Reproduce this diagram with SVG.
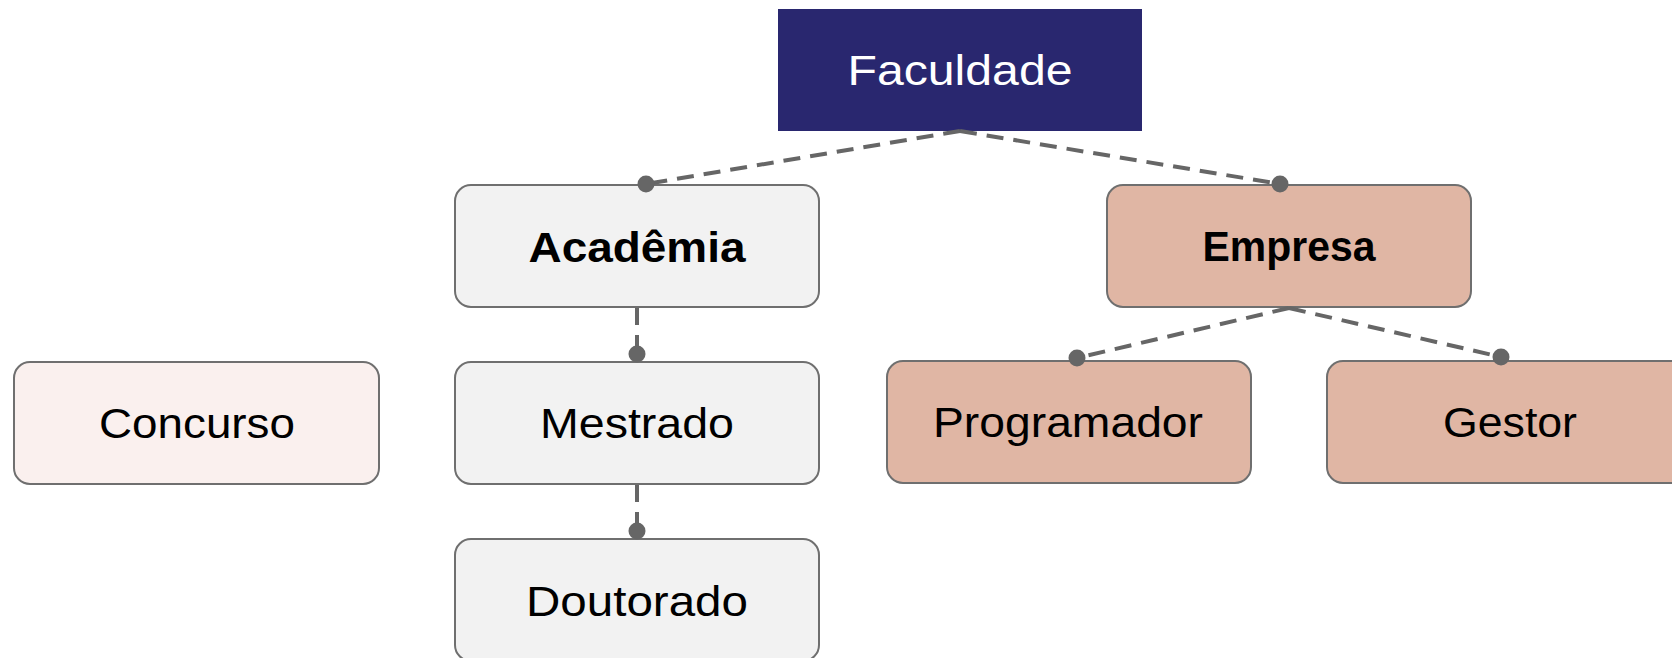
<svg xmlns="http://www.w3.org/2000/svg" width="1672" height="658" viewBox="0 0 1672 658">
<style>
.box{stroke:#6f6f6f;stroke-width:2}
.grey{fill:#f2f2f2}
.rose{fill:#e0b6a4}
.pale{fill:#faf0ee}
.t{font-family:"Liberation Sans",Arial,sans-serif;font-size:42px;fill:#000;text-anchor:middle}
.b{font-weight:bold}
.conn{fill:none;stroke:#666;stroke-width:4;stroke-dasharray:17 10}
.dot{fill:#666}
</style>
<rect width="1672" height="658" fill="#fff"/>
<g id="faculdade">
<rect x="778" y="9" width="364" height="122" fill="#29276f"/>
<text class="t" x="960" y="85" style="fill:#fff" textLength="225" lengthAdjust="spacingAndGlyphs">Faculdade</text>
</g>
<g id="academia">
<rect class="box grey" x="455" y="185" width="364" height="122" rx="16"/>
<text class="t b" x="637" y="262" textLength="217" lengthAdjust="spacingAndGlyphs">Acadêmia</text>
</g>
<g id="empresa">
<rect class="box rose" x="1107" y="185" width="364" height="122" rx="16"/>
<text class="t b" x="1289" y="261" textLength="173" lengthAdjust="spacingAndGlyphs">Empresa</text>
</g>
<g id="concurso">
<rect class="box pale" x="14" y="362" width="365" height="122" rx="16"/>
<text class="t" x="197" y="438" textLength="196" lengthAdjust="spacingAndGlyphs">Concurso</text>
</g>
<g id="mestrado">
<rect class="box grey" x="455" y="362" width="364" height="122" rx="16"/>
<text class="t" x="637" y="438" textLength="194" lengthAdjust="spacingAndGlyphs">Mestrado</text>
</g>
<g id="doutorado">
<rect class="box grey" x="455" y="539" width="364" height="122" rx="16"/>
<text class="t" x="637" y="616" textLength="222" lengthAdjust="spacingAndGlyphs">Doutorado</text>
</g>
<g id="programador">
<rect class="box rose" x="887" y="361" width="364" height="122" rx="16"/>
<text class="t" x="1068" y="437" textLength="270" lengthAdjust="spacingAndGlyphs">Programador</text>
</g>
<g id="gestor">
<rect class="box rose" x="1327" y="361" width="364" height="122" rx="16"/>
<text class="t" x="1510" y="437" textLength="134" lengthAdjust="spacingAndGlyphs">Gestor</text>
</g>
<g id="connectors">
<path class="conn" d="M960 131 L646 184"/>
<path class="conn" d="M960 131 L1280 184"/>
<path class="conn" d="M637 308 L637 354"/>
<path class="conn" d="M637 485 L637 531"/>
<path class="conn" d="M1289 308 L1077 358"/>
<path class="conn" d="M1289 308 L1501 357"/>
<circle class="dot" cx="646" cy="184" r="8.5"/>
<circle class="dot" cx="1280" cy="184" r="8.5"/>
<circle class="dot" cx="637" cy="354" r="8.5"/>
<circle class="dot" cx="637" cy="531" r="8.5"/>
<circle class="dot" cx="1077" cy="358" r="8.5"/>
<circle class="dot" cx="1501" cy="357" r="8.5"/>
</g>
</svg>
